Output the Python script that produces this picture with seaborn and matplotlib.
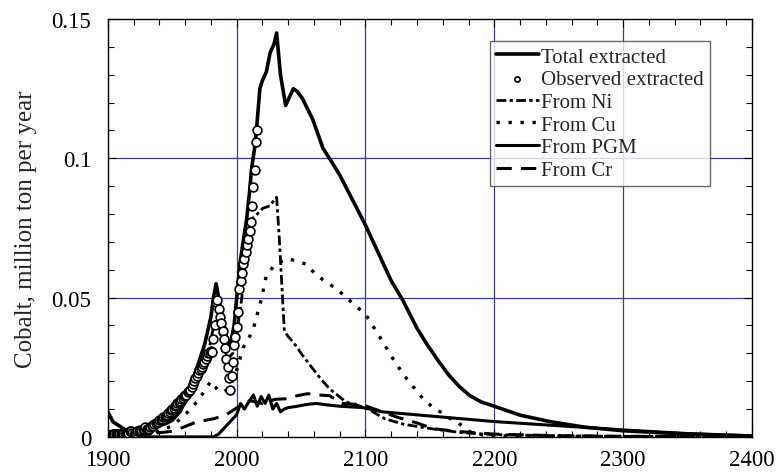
import matplotlib
matplotlib.use("Agg")
import matplotlib.pyplot as plt
from matplotlib.ticker import MultipleLocator, FixedLocator, FixedFormatter
import seaborn as sns
import pandas as pd

# ---------------- data ----------------
total_years = [1900, 1904, 1912, 1919, 1925, 1933, 1940, 1946, 1950, 1956, 1961, 1965,
               1970, 1975, 1980, 1982, 1984, 1986, 1988, 1992, 1995, 1998, 2000, 2002.5,
               2005, 2007.7, 2010, 2011.5, 2014, 2015.5, 2018, 2020, 2023, 2026, 2029, 2031,
               2034, 2038, 2041, 2044, 2047, 2051, 2059, 2067, 2072, 2080, 2090, 2100,
               2111, 2120, 2129, 2140, 2148, 2157, 2165, 2173, 2181, 2190, 2200, 2220,
               2243, 2270, 2300, 2350, 2400]
total_vals = [0.009, 0.0054, 0.003, 0.001, 0.002, 0.003, 0.004, 0.005, 0.006, 0.009, 0.0137, 0.019,
              0.026, 0.033, 0.043, 0.050, 0.055, 0.050, 0.045, 0.036, 0.033, 0.040, 0.050, 0.062,
              0.070, 0.078, 0.088, 0.096, 0.104, 0.111, 0.125, 0.128, 0.131, 0.138, 0.141, 0.145,
              0.130, 0.119, 0.122, 0.125, 0.124, 0.1215, 0.114, 0.1036, 0.100, 0.094, 0.085, 0.076,
              0.065, 0.056, 0.049, 0.039, 0.033, 0.027, 0.022, 0.018, 0.0148, 0.0125, 0.011, 0.0078,
              0.0055, 0.0035, 0.0022, 0.001, 0.0003]

obs_years = list(range(1900, 2017))
obs_vals = [0.0005, 0.0005, 0.0005, 0.0005, 0.001, 0.001, 0.001, 0.001, 0.001, 0.001,
            0.001, 0.001, 0.0015, 0.0015, 0.001, 0.001, 0.0015, 0.002, 0.002, 0.0015,
            0.001, 0.001, 0.0015, 0.002, 0.002, 0.0025, 0.0025, 0.003, 0.003, 0.0035,
            0.003, 0.0025, 0.003, 0.0035, 0.004, 0.004, 0.0045, 0.005, 0.005, 0.0055,
            0.006, 0.006, 0.0065, 0.007, 0.007, 0.0075, 0.008, 0.0085, 0.009, 0.0095,
            0.010, 0.0105, 0.011, 0.0115, 0.012, 0.0125, 0.013, 0.0135, 0.014, 0.0145,
            0.015, 0.015, 0.016, 0.0165, 0.017, 0.018, 0.019, 0.020, 0.021, 0.022,
            0.023, 0.024, 0.0245, 0.025, 0.026, 0.027, 0.028, 0.029, 0.030, 0.030,
            0.031, 0.0306, 0.035, 0.040, 0.0486, 0.049, 0.046, 0.043, 0.041, 0.038,
            0.035, 0.032, 0.028, 0.025, 0.021, 0.017, 0.022, 0.027, 0.033, 0.036,
            0.0395, 0.045, 0.053, 0.056, 0.059, 0.062, 0.064, 0.0665, 0.069, 0.071,
            0.074, 0.077, 0.083, 0.0896, 0.0957, 0.106, 0.110]

ni_years = [1900, 1910, 1920, 1930, 1940, 1950, 1960, 1970, 1978, 1983, 1988, 1993, 1997,
            2000, 2004, 2008, 2011, 2015, 2020, 2026, 2030, 2031, 2033, 2035, 2037, 2040,
            2044, 2050, 2057, 2065, 2072, 2085, 2100, 2115, 2130, 2150, 2175, 2200, 2250,
            2300, 2400]
ni_vals = [0.002, 0.002, 0.001, 0.002, 0.004, 0.007, 0.012, 0.021, 0.030, 0.042, 0.036, 0.028, 0.030,
           0.037, 0.050, 0.070, 0.078, 0.0795, 0.082, 0.083, 0.0856, 0.086, 0.072, 0.055, 0.038, 0.036,
           0.034, 0.030, 0.0257, 0.021, 0.0173, 0.0125, 0.0105, 0.0065, 0.0045, 0.003, 0.0015, 0.0008, 0.0004,
           0.0002, 0.0001]

cu_years = [1900, 1920, 1940, 1950, 1960, 1970, 1980, 1985, 1990, 1995, 2000, 2005, 2010, 2013,
            2019.5, 2023, 2030, 2035, 2040, 2047, 2054, 2060, 2068, 2078, 2090, 2100, 2111, 2120,
            2130, 2137, 2145, 2150, 2158, 2165, 2171, 2181, 2190, 2200, 2250, 2300, 2400]
cu_vals = [0.001, 0.001, 0.002, 0.004, 0.008, 0.013, 0.020, 0.017, 0.016, 0.018, 0.024, 0.032, 0.036, 0.039,
           0.050, 0.058, 0.062, 0.063, 0.064, 0.063, 0.062, 0.059, 0.056, 0.053, 0.048, 0.044, 0.036, 0.029,
           0.022, 0.018, 0.0135, 0.0115, 0.009, 0.0068, 0.0054, 0.0018, 0.0008, 0.0004, 0.0002, 0.0001, 0.0]

pgm_years = [1900, 1982, 1986, 1992, 1996, 2000, 2003, 2006, 2010, 2013, 2016, 2019, 2022, 2025,
             2028, 2031, 2034, 2037, 2040, 2047, 2055, 2062, 2070, 2080, 2098, 2113, 2150, 2200,
             2250, 2300, 2350, 2400]
pgm_vals = [0.0, 0.0, 0.001, 0.004, 0.006, 0.008, 0.012, 0.010, 0.013, 0.015, 0.011, 0.0145, 0.012, 0.015,
            0.010, 0.012, 0.009, 0.010, 0.0105, 0.011, 0.0117, 0.012, 0.0115, 0.011, 0.0105, 0.009, 0.0075, 0.0055,
            0.004, 0.0025, 0.0012, 0.0004]

cr_years = [1900, 1930, 1950, 1956, 1969, 1982, 1992, 2002, 2010, 2020, 2030, 2039, 2047, 2055,
            2065, 2072, 2082, 2098, 2113, 2125, 2140, 2152, 2170, 2200, 2250, 2300, 2400]
cr_vals = [0.0005, 0.001, 0.002, 0.003, 0.0054, 0.0065, 0.008, 0.011, 0.013, 0.012, 0.0135, 0.0137, 0.0148,
           0.0155, 0.015, 0.0148, 0.012, 0.0115, 0.009, 0.007, 0.005, 0.003, 0.002, 0.001, 0.0004, 0.0002, 0.0001]

x_ticks = [1900, 2000, 2100, 2200, 2300, 2400]
y_ticks = [0, 0.05, 0.1, 0.15]
y_tick_labels = ["0", "0.05", "0.1", "0.15"]

# ---------------- plot ----------------
sns.set_style("white")
plt.rcParams['font.family'] = ['Liberation Serif', 'DejaVu Serif']
plt.rcParams['mathtext.fontset'] = 'stix'

fig = plt.figure(figsize=(7.76, 4.77), dpi=100)
ax = fig.add_axes([0.139, 0.082, 0.830, 0.876])

grid_c = '#3c3c96'
for xv in x_ticks[1:-1]:
    ax.axvline(xv, color=grid_c, lw=0.9, zorder=0)
for yv in y_ticks[1:-1]:
    ax.axhline(yv, color=grid_c, lw=0.9, zorder=0)

df_total = pd.DataFrame({'year': total_years, 'v': total_vals})
df_ni = pd.DataFrame({'year': ni_years, 'v': ni_vals})
df_cu = pd.DataFrame({'year': cu_years, 'v': cu_vals})
df_pgm = pd.DataFrame({'year': pgm_years, 'v': pgm_vals})
df_cr = pd.DataFrame({'year': cr_years, 'v': cr_vals})
df_obs = pd.DataFrame({'year': obs_years, 'v': obs_vals})

sns.lineplot(data=df_total, x='year', y='v', ax=ax, color='black', lw=2.6,
             label='Total extracted', zorder=4, sort=False)
sns.scatterplot(data=df_obs, x='year', y='v', ax=ax, marker='o', s=40,
                facecolor='white', edgecolor='black', linewidth=1.2,
                label='Observed extracted', zorder=5)
sns.lineplot(data=df_ni, x='year', y='v', ax=ax, color='black', lw=2.0,
             linestyle=(0, (3.5, 1.2, 1.2, 1.2)), label='From Ni', zorder=3, sort=False)
sns.lineplot(data=df_cu, x='year', y='v', ax=ax, color='black', lw=2.4,
             linestyle=(0, (1, 2.6)), label='From Cu', zorder=3, sort=False)
sns.lineplot(data=df_pgm, x='year', y='v', ax=ax, color='black', lw=2.2,
             label='From PGM', zorder=3, sort=False)
sns.lineplot(data=df_cr, x='year', y='v', ax=ax, color='black', lw=2.2,
             linestyle=(0, (5, 3)), label='From Cr', zorder=3, sort=False)

ax.set_xlim(1900, 2400)
ax.set_ylim(0, 0.15)
ax.xaxis.set_major_locator(FixedLocator(x_ticks))
ax.xaxis.set_minor_locator(MultipleLocator(20))
ax.yaxis.set_major_locator(FixedLocator(y_ticks))
ax.yaxis.set_major_formatter(FixedFormatter(y_tick_labels))
ax.yaxis.set_minor_locator(MultipleLocator(0.01))
ax.tick_params(which='both', direction='in', top=True, right=True, bottom=True, left=True,
               colors='black', labelsize=16.5)
ax.tick_params(which='major', length=6, width=0.8)
ax.tick_params(which='minor', length=4, width=0.8)
ax.tick_params(axis='x', pad=9)
ax.tick_params(axis='y', pad=12)
ax.set_xlabel('')
ax.set_ylabel('Cobalt, million ton per year', fontsize=18, labelpad=10)
for s in ax.spines.values():
    s.set_color('black')
    s.set_linewidth(1.0)

leg = ax.legend(loc='upper left', bbox_to_anchor=(0.593, 0.948), frameon=True, fancybox=False,
                edgecolor='#444444', fontsize=15, handlelength=2.05, handletextpad=0.12,
                labelspacing=0.15, borderpad=0.3, borderaxespad=0.0, markerscale=0.6)
leg.get_frame().set_linewidth(1.0)

fig.savefig('out.png', dpi=100)
